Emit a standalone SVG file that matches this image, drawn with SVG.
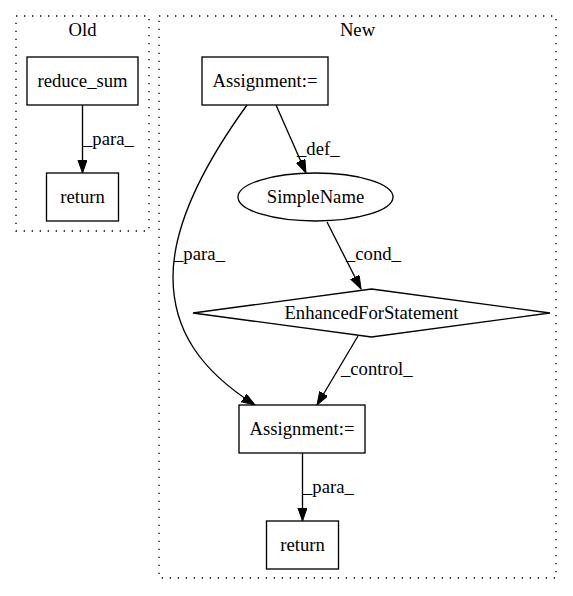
<svg xmlns="http://www.w3.org/2000/svg" width="573" height="596" viewBox="0 0 573 596">
<style>
text{font-family:"Liberation Serif","Times New Roman",serif;font-size:18.67px;fill:#000}
.c{text-anchor:middle}
.cl{fill:none;stroke:#000;stroke-width:1.33;stroke-dasharray:1.33,6.67}
.n{fill:#fff;stroke:#000;stroke-width:1.33}
.e{fill:none;stroke:#000;stroke-width:1.33;marker-end:url(#ah)}
</style>
<defs>
<marker id="ah" markerUnits="userSpaceOnUse" markerWidth="14" markerHeight="10" refX="13.3" refY="4.67" orient="auto" viewBox="0 0 14 10">
<path d="M0,0 L13.3,4.67 L0,9.33 z" fill="#000" stroke="#000" stroke-width="1"/>
</marker>
</defs>
<rect width="573" height="596" fill="#fff"/>
<g id="cluster_old">
<rect class="cl" x="16" y="16" width="133" height="215"/>
<text class="c" x="82.5" y="36">Old</text>
</g>
<g id="cluster_new">
<rect class="cl" x="159" y="16" width="397" height="562"/>
<text class="c" x="357.5" y="36">New</text>
</g>
<g id="edges">
<path class="e" d="M82.5,105 L82.5,173"/>
<text x="83" y="145">_para_</text>
<path class="e" d="M276,105 L306,173"/>
<text x="297" y="155">_def_</text>
<path class="e" d="M327,222 L361,289"/>
<text x="346" y="260">_cond_</text>
<path class="e" d="M247,105 C213,152 173,217 173,277 C173,330 200,370 255,405"/>
<text x="174" y="260">_para_</text>
<path class="e" d="M358,336 L317,405"/>
<text x="341" y="375">_control_</text>
<path class="e" d="M302.5,453 L302.5,521"/>
<text x="303" y="493">_para_</text>
</g>
<g id="reduce_sum">
<rect class="n" x="27" y="57" width="111" height="48"/>
<text class="c" x="82.5" y="87">reduce_sum</text>
</g>
<g id="return_old">
<rect class="n" x="46.5" y="173" width="72" height="48"/>
<text class="c" x="82.5" y="203">return</text>
</g>
<g id="assignment1">
<rect class="n" x="202" y="57" width="126" height="48"/>
<text class="c" x="265" y="87">Assignment:=</text>
</g>
<g id="simplename">
<ellipse class="n" cx="315.5" cy="197" rx="77.5" ry="24"/>
<text class="c" x="315.5" y="203">SimpleName</text>
</g>
<g id="enhancedfor">
<polygon class="n" points="371.5,289 550,313 371.5,337 193,313"/>
<text class="c" x="371.5" y="319">EnhancedForStatement</text>
</g>
<g id="assignment2">
<rect class="n" x="239" y="405" width="126" height="48"/>
<text class="c" x="302" y="435">Assignment:=</text>
</g>
<g id="return_new">
<rect class="n" x="266.5" y="521" width="72" height="48"/>
<text class="c" x="302.5" y="551">return</text>
</g>
</svg>
